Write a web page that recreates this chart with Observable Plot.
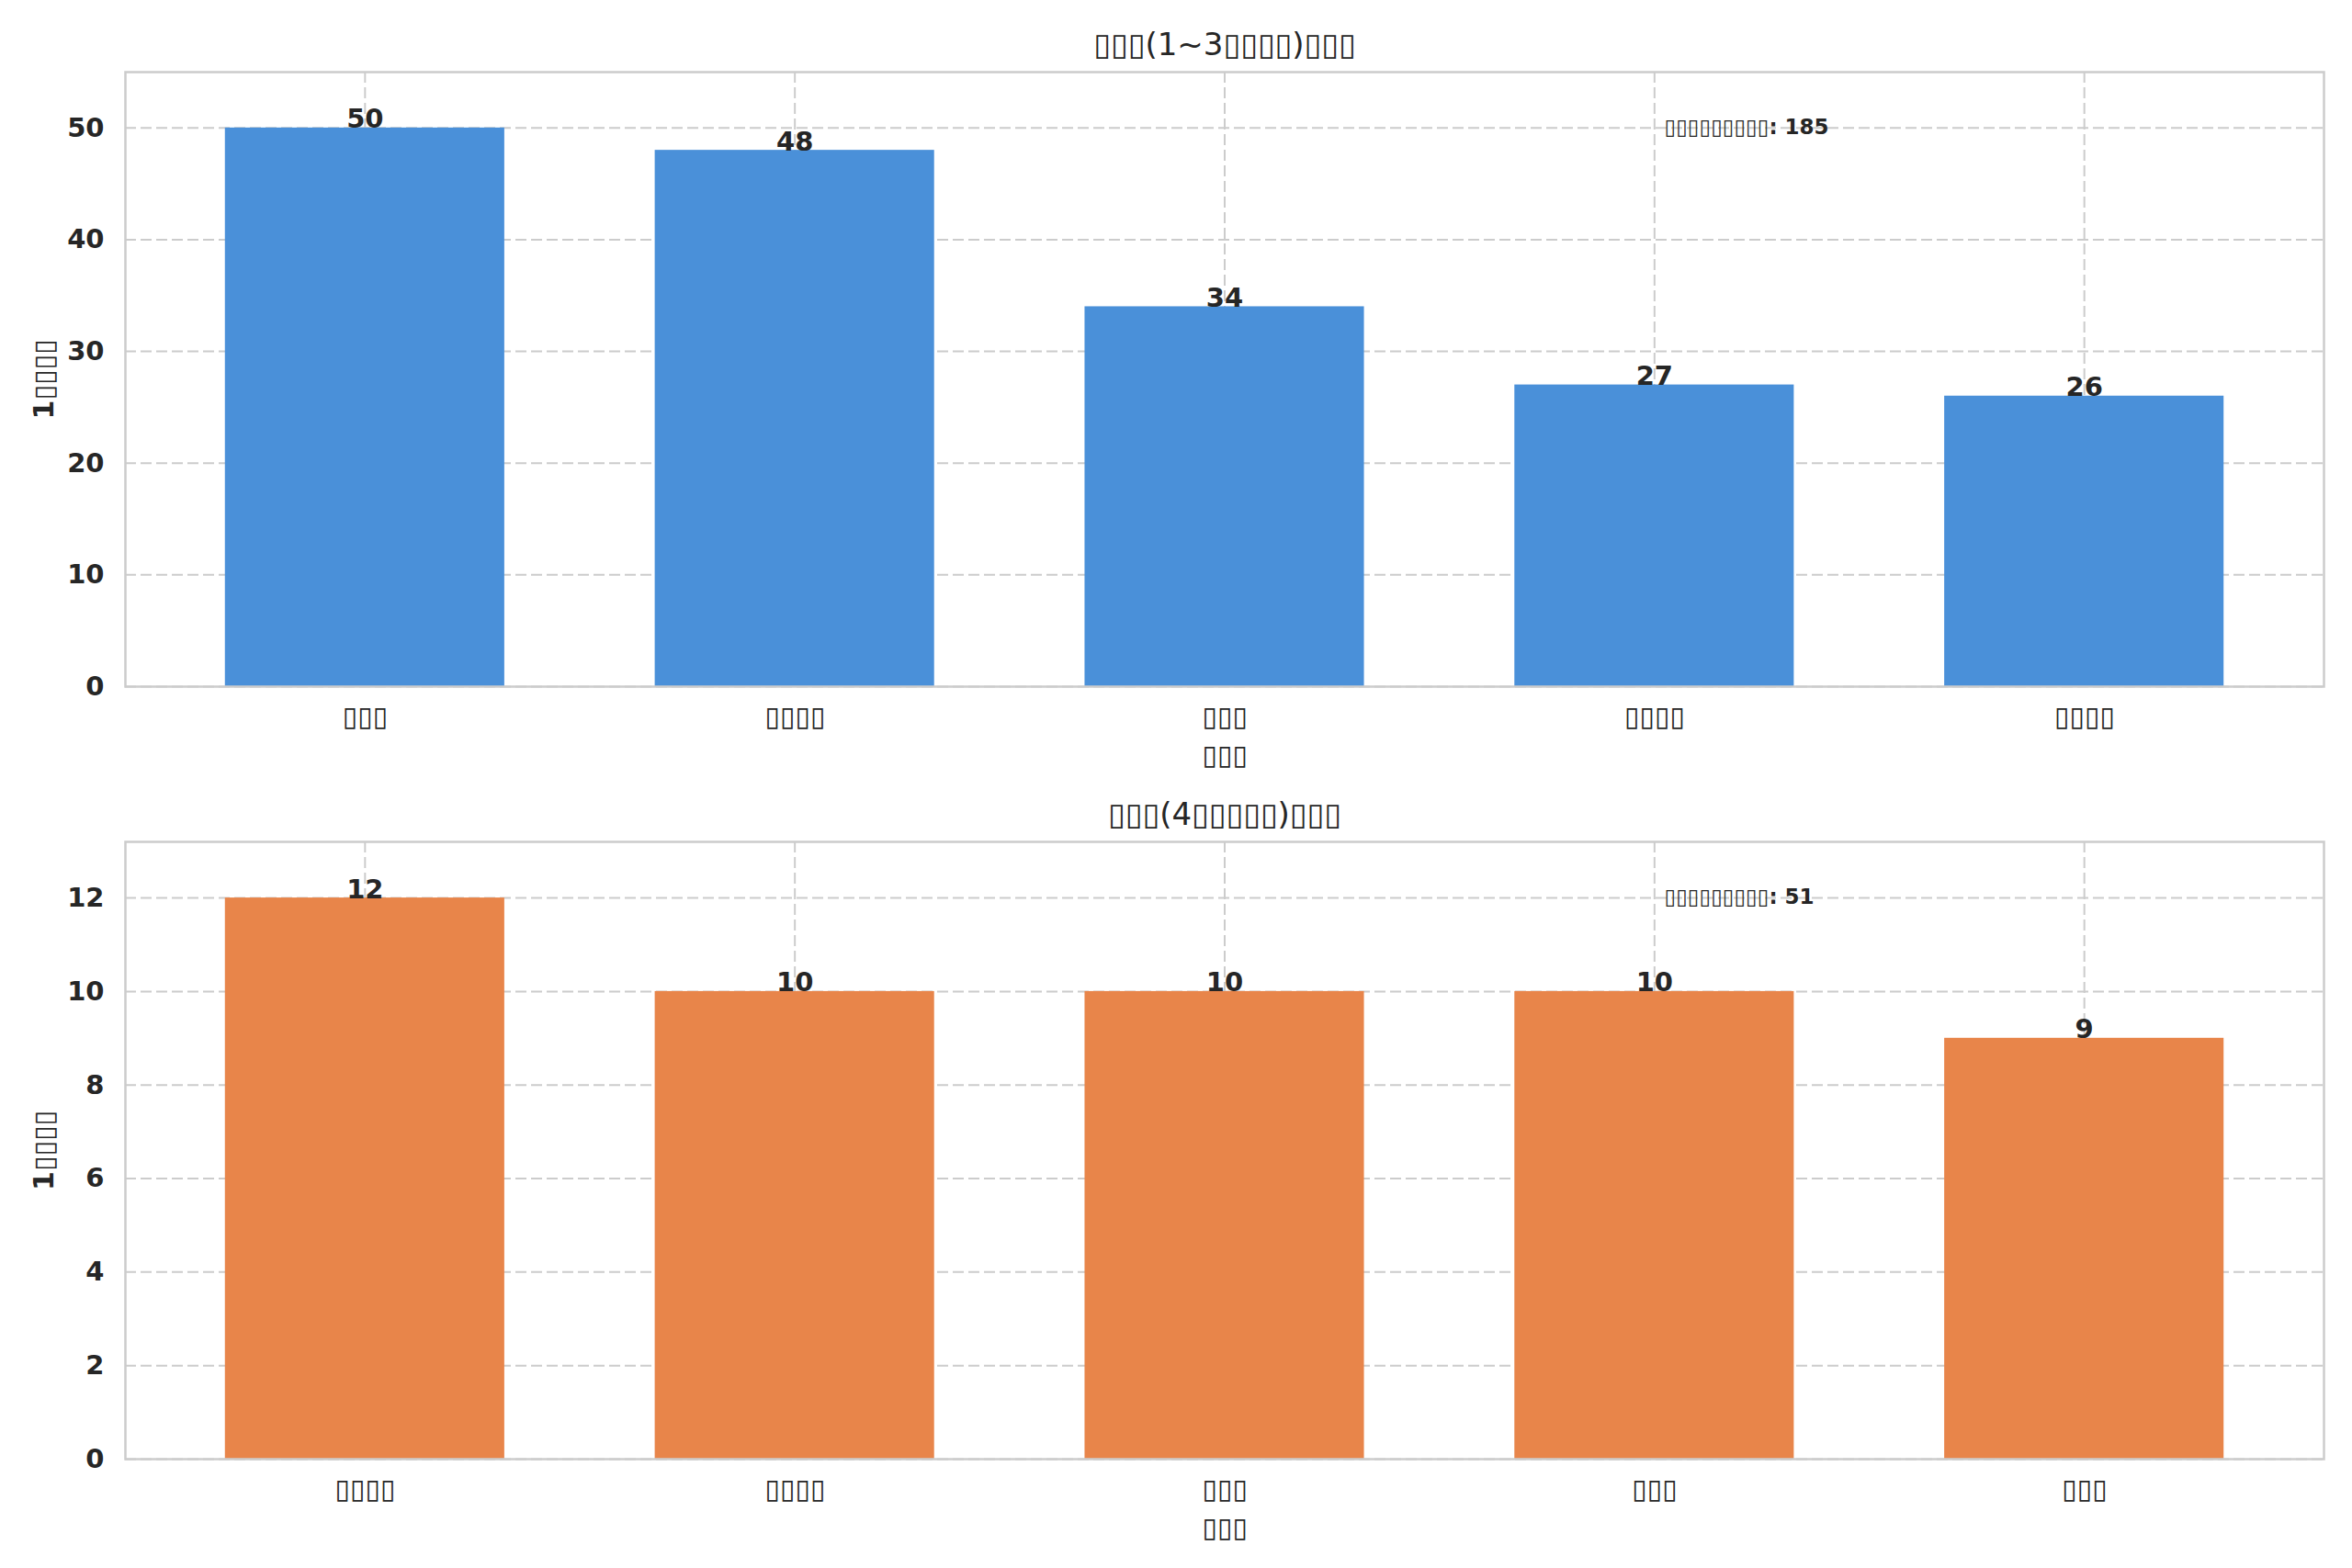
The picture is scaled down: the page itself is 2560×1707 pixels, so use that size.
<!DOCTYPE html>
<html>
<head>
<meta charset="utf-8">
<script src="https://cdn.jsdelivr.net/npm/d3@7"></script>
<script src="https://cdn.jsdelivr.net/npm/@observablehq/plot@0.6"></script>
<style>
  html, body { margin: 0; padding: 0; background: #ffffff; }
  #chart { width: 2560px; height: 1707px; background: #ffffff; }
  #chart svg { display: block; }
</style>
</head>
<body>
<div id="chart"></div>
<script>
// ---- data ----
const topTitle = "▯▯▯(1~3▯▯▯▯)▯▯▯";
const bottomTitle = "▯▯▯(4▯▯▯▯▯)▯▯▯";
const yLabel = "1▯▯▯▯";
const xLabel = "▯▯▯";
const totalLabel = "▯▯▯▯▯▯▯▯▯";

const topCategories = ["▯▯▯", "▯▯▯▯", "▯▯▯", "▯▯▯▯", "▯▯▯▯"];
const topValues = [50, 48, 34, 27, 26];
const topTicks = [0, 10, 20, 30, 40, 50];
const topMax = 55;

const bottomCategories = ["▯▯▯▯", "▯▯▯▯", "▯▯▯", "▯▯▯", "▯▯▯"];
const bottomValues = [12, 10, 10, 10, 9];
const bottomTicks = [0, 2, 4, 6, 8, 10, 12];
const bottomMax = 13.2;

const topColor = "#4a90d9";
const bottomColor = "#e8854a";

// ---- drawing ----
const FONT = "'DejaVu Sans', 'Liberation Sans', sans-serif";
const TEXT = "#262626";
const GRID = "#cccccc";
const W = 2560;
const ML = 136, MR = 31;
const frameW = W - ML - MR;

function panel({title, categories, values, ticks, yMax, color, height, marginTop, marginBottom}) {
  const data = values.map((v, i) => ({i, v}));
  const frameH = height - marginTop - marginBottom;
  const total = d3.sum(values);
  return Plot.plot({
    width: W,
    height,
    marginLeft: ML,
    marginRight: MR,
    marginTop,
    marginBottom,
    style: {fontFamily: FONT, color: TEXT, background: "#ffffff", overflow: "visible"},
    x: {type: "band", domain: categories.map((_, i) => i), paddingInner: 0.35, paddingOuter: 0.2325, align: 0.5, round: false, axis: null},
    y: {domain: [0, yMax], nice: false, axis: null},
    marks: [
      Plot.gridX({stroke: GRID, strokeOpacity: 1, strokeWidth: 2, strokeDasharray: "12,5"}),
      Plot.gridY({ticks, stroke: GRID, strokeOpacity: 1, strokeWidth: 2, strokeDasharray: "12,5"}),
      Plot.barY(data, {x: "i", y: "v", fill: color}),
      Plot.frame({stroke: GRID, strokeWidth: 2.5}),
      Plot.axisY({ticks, tickSize: 0, tickPadding: 23, fontSize: 29, fontWeight: "bold", label: null, fill: TEXT}),
      Plot.axisX({tickSize: 0, tickPadding: 21, fontSize: 30, label: null, fill: TEXT, tickFormat: (i) => categories[i]}),
      Plot.text(data, {x: "i", y: "v", text: (d) => String(d.v), lineAnchor: "bottom", fontSize: 29, fontWeight: "bold", fill: TEXT}),
      Plot.text([title], {frameAnchor: "top", dy: -29, lineAnchor: "middle", fontSize: 34, fill: TEXT}),
      Plot.text([xLabel], {frameAnchor: "bottom", dy: 75, lineAnchor: "middle", fontSize: 30, fill: TEXT}),
      Plot.text([yLabel], {frameAnchor: "left", dx: -88, rotate: -90, textAnchor: "middle", lineAnchor: "middle", fontSize: 30, fontWeight: "bold", fill: TEXT}),
      Plot.text([`${totalLabel}: ${total}`], {frameAnchor: "top-left", dx: Math.round(frameW * 0.7), dy: Math.round(frameH * 0.1), textAnchor: "start", lineAnchor: "bottom", fontSize: 23, fontWeight: "bold", fill: TEXT})
    ]
  });
}

const chart = document.getElementById("chart");
chart.append(panel({title: topTitle, categories: topCategories, values: topValues, ticks: topTicks, yMax: topMax, color: topColor, height: 850, marginTop: 78, marginBottom: 103}));
chart.append(panel({title: bottomTitle, categories: bottomCategories, values: bottomValues, ticks: bottomTicks, yMax: bottomMax, color: bottomColor, height: 857, marginTop: 66, marginBottom: 119}));
</script>
</body>
</html>
